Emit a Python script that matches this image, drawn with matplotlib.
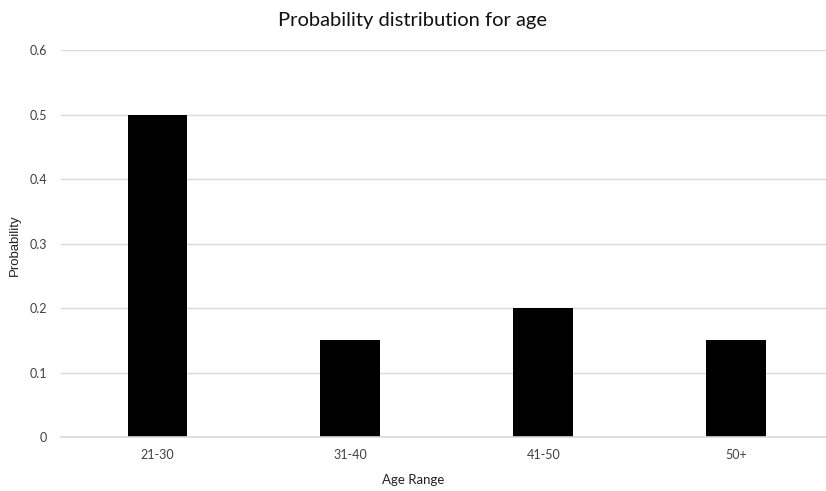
import matplotlib
matplotlib.use("Agg")
import matplotlib.pyplot as plt
import numpy as np

age_ranges = ["21-30", "31-40", "41-50", "50+"]
probability = [0.5, 0.15, 0.2, 0.15]
y_ticks = [0, 0.1, 0.2, 0.3, 0.4, 0.5, 0.6]
y_tick_labels = ["0", "0.1", "0.2", "0.3", "0.4", "0.5", "0.6"]

plt.rcParams["font.family"] = ["Lato", "DejaVu Sans"]

fig = plt.figure(figsize=(8.26, 4.91), dpi=100)
ax = fig.add_axes([0.0738, 0.110, 0.9262, 0.788])

x = np.arange(len(age_ranges))
ax.bar(x, probability, width=0.31, color="black", zorder=3)

ax.set_xlim(-0.5, 3.466)
ax.set_ylim(0, 0.6)
ax.set_yticks(y_ticks)
ax.set_yticklabels(y_tick_labels)
ax.set_xticks(x)
ax.set_xticklabels(age_ranges)
ax.tick_params(axis="both", length=0, labelsize=9, colors="#404040")
ax.tick_params(axis="x", pad=9)
ax.tick_params(axis="y", pad=10)

ax.grid(axis="y", color="#d9d9d9", lw=1, zorder=0)
for side in ["top", "right", "left"]:
    ax.spines[side].set_visible(False)
ax.spines["bottom"].set_color("#d9d9d9")
ax.spines["bottom"].set_linewidth(1.2)
ax.spines["bottom"].set_zorder(4)

fig.text(0.5, 0.958, "Probability distribution for age", ha="center", va="center",
         fontsize=14.5, color="#111111")
fig.text(0.5, 0.023, "Age Range", ha="center", va="center", fontsize=9.5, color="#222222")
fig.text(0.018, 0.5, "Probability", ha="center", va="center", rotation=90,
         fontsize=9.5, color="#222222", family=["Liberation Sans", "DejaVu Sans"])

fig.savefig("out.png", dpi=100)
